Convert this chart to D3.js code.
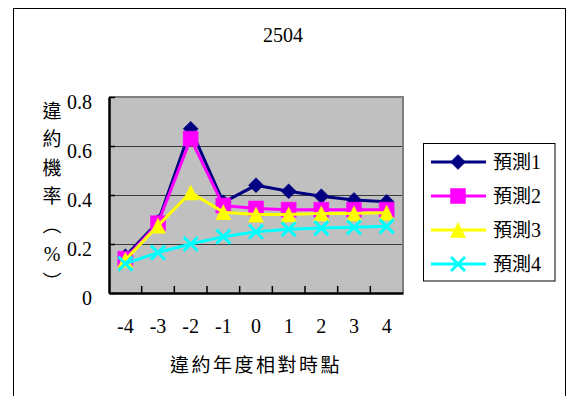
<!DOCTYPE html>
<html>
<head>
<meta charset="utf-8">
<script src="https://cdn.jsdelivr.net/npm/d3@7/dist/d3.min.js"></script>
<style>
  html, body { margin: 0; padding: 0; background: #fff; }
  svg { display: block; }
  .lat { font-family: "Liberation Serif", "Noto Sans CJK TC", serif; }
  .cjk { font-family: "Noto Sans CJK TC", "Liberation Serif", sans-serif; }
</style>
</head>
<body>
<svg id="chart" width="568" height="396"></svg>
<script>
// Default probability (%) by year relative to the default year, four forecasts
const title = "2504";
const categories = ["-4", "-3", "-2", "-1", "0", "1", "2", "3", "4"];
const forecast1 = [0.15, 0.29, 0.67, 0.37, 0.44, 0.415, 0.395, 0.38, 0.372];
const forecast2 = [0.14, 0.285, 0.63, 0.357, 0.345, 0.34, 0.34, 0.34, 0.34];
const forecast3 = [0.135, 0.275, 0.41, 0.33, 0.32, 0.32, 0.325, 0.325, 0.328];
const forecast4 = [0.12, 0.165, 0.2, 0.23, 0.25, 0.26, 0.265, 0.268, 0.272];
const seriesNames = ["預測1", "預測2", "預測3", "預測4"];
const seriesColors = ["#000080", "#ff00ff", "#ffff00", "#00ffff"];
const yTicks = [0, 0.2, 0.4, 0.6, 0.8];
const xTitle = "違約年度相對時點";
const yTitleChars = ["違", "約", "機", "率", "︵", "%", "︶"];

// Marker shapes; size is used as the half-extent in pixels
const diamond = { draw(ctx, r) { ctx.moveTo(0, -r); ctx.lineTo(r, 0); ctx.lineTo(0, r); ctx.lineTo(-r, 0); ctx.closePath(); } };
const square = { draw(ctx, r) { ctx.rect(-r, -r, 2 * r, 2 * r); } };
const triangle = { draw(ctx, r) { ctx.moveTo(0, -r); ctx.lineTo(r, r); ctx.lineTo(-r, r); ctx.closePath(); } };
const cross = { draw(ctx, r) { ctx.moveTo(-r, -r); ctx.lineTo(r, r); ctx.moveTo(r, -r); ctx.lineTo(-r, r); } };

const series = [
  { name: seriesNames[0], values: forecast1, color: seriesColors[0], shape: diamond, r: 7.5, filled: true },
  { name: seriesNames[1], values: forecast2, color: seriesColors[1], shape: square, r: 7.5, filled: true },
  { name: seriesNames[2], values: forecast3, color: seriesColors[2], shape: triangle, r: 7.5, filled: true },
  { name: seriesNames[3], values: forecast4, color: seriesColors[3], shape: cross, r: 7, filled: false }
];

const svg = d3.select("#chart");
const plot = { left: 109, right: 403, top: 97, bottom: 293 };

// Outer chart frame
svg.append("rect")
  .attr("x", 13.5).attr("y", 8.5).attr("width", 552).attr("height", 420)
  .attr("fill", "#fff").attr("stroke", "#000").attr("stroke-width", 1);

// Title
svg.append("text").attr("class", "lat")
  .attr("x", 283).attr("y", 35).attr("dy", "0.35em")
  .attr("text-anchor", "middle").attr("font-size", 20).attr("fill", "#000")
  .text(title);

const x = d3.scaleBand().domain(categories).range([plot.left, plot.right]).padding(0);
const y = d3.scaleLinear().domain([0, 0.8]).range([plot.bottom, plot.top]);

// Plot background
svg.append("rect")
  .attr("x", plot.left).attr("y", plot.top)
  .attr("width", plot.right - plot.left).attr("height", plot.bottom - plot.top)
  .attr("fill", "#c0c0c0");

// Horizontal gridlines
svg.append("g").selectAll("line")
  .data(yTicks.filter(t => t > 0 && t < 0.8))
  .join("line")
  .attr("x1", plot.left).attr("x2", plot.right)
  .attr("y1", d => Math.round(y(d)) + 0.5).attr("y2", d => Math.round(y(d)) + 0.5)
  .attr("stroke", "#3a3a3a").attr("stroke-width", 1);

// Top and right border of the plot area
svg.append("path")
  .attr("d", `M${plot.left},${plot.top}H${plot.right}V${plot.bottom}`)
  .attr("fill", "none").attr("stroke", "#808080").attr("stroke-width", 2);

// Y axis: inward ticks, labels on the left
const yAxis = d3.axisLeft(y).tickValues(yTicks).tickSizeInner(-6).tickSizeOuter(0).tickPadding(17)
  .tickFormat(d => d === 0 ? "0" : d3.format(".1f")(d));
const gy = svg.append("g").attr("transform", `translate(${plot.left},0)`).call(yAxis);
gy.select(".domain").attr("stroke", "#000").attr("stroke-width", 2.5);
gy.selectAll(".tick line").attr("stroke", "#000").attr("stroke-width", 1.5);
gy.selectAll(".tick text").attr("class", "lat").attr("font-size", 20).attr("fill", "#000")
  .attr("dy", "0.55em").attr("font-family", "Liberation Serif");

// X axis: labels under category centres, ticks between categories
const xAxis = d3.axisBottom(x).tickSize(0).tickPadding(26);
const gx = svg.append("g").attr("transform", `translate(0,${plot.bottom})`).call(xAxis);
gx.select(".domain").attr("stroke", "#000").attr("stroke-width", 2.5);
gx.selectAll(".tick text").attr("font-size", 20).attr("fill", "#000")
  .attr("font-family", "Liberation Serif");
svg.append("g").selectAll("line")
  .data(categories.slice(1))
  .join("line")
  .attr("x1", d => x(d)).attr("x2", d => x(d))
  .attr("y1", plot.bottom).attr("y2", plot.bottom - 7)
  .attr("stroke", "#000").attr("stroke-width", 1.5);

// Axis titles
svg.append("text").attr("class", "cjk")
  .attr("x", (plot.left + plot.right) / 2).attr("y", 365).attr("dy", "0.35em")
  .attr("text-anchor", "middle").attr("font-size", 19).attr("letter-spacing", 2.5).attr("fill", "#000")
  .text(xTitle);

svg.append("g").selectAll("text")
  .data(yTitleChars)
  .join("text")
  .attr("class", d => d === "%" ? "lat" : "cjk")
  .attr("x", 52).attr("y", (d, i) => 111 + i * 28.5).attr("dy", "0.35em")
  .attr("text-anchor", "middle").attr("font-size", d => d === "%" ? 20 : 19).attr("fill", "#000")
  .text(d => d);

// Series lines and markers
const cx = d => x(d) + x.bandwidth() / 2;
const line = d3.line().x((v, i) => cx(categories[i])).y(v => y(v));

series.forEach(s => {
  const g = svg.append("g");
  g.append("path").attr("d", line(s.values))
    .attr("fill", "none").attr("stroke", s.color).attr("stroke-width", 3).attr("stroke-linejoin", "round");
  g.selectAll("path.m").data(s.values).join("path").attr("class", "m")
    .attr("transform", (v, i) => `translate(${cx(categories[i])},${y(v)})`)
    .attr("d", d3.symbol().type(s.shape).size(s.r)())
    .attr("fill", s.filled ? s.color : "none")
    .attr("stroke", s.color).attr("stroke-width", s.filled ? 0.5 : 3);
});

// Legend
const lg = svg.append("g");
lg.append("rect").attr("x", 423.5).attr("y", 143.5).attr("width", 131.5).attr("height", 137.5)
  .attr("fill", "#fff").attr("stroke", "#000").attr("stroke-width", 1);
series.forEach((s, i) => {
  const ly = 162 + i * 34;
  lg.append("line").attr("x1", 431).attr("x2", 486).attr("y1", ly).attr("y2", ly)
    .attr("stroke", s.color).attr("stroke-width", 3);
  lg.append("path").attr("transform", `translate(458,${ly})`)
    .attr("d", d3.symbol().type(s.shape).size(s.r)())
    .attr("fill", s.filled ? s.color : "none")
    .attr("stroke", s.color).attr("stroke-width", s.filled ? 0.5 : 3);
  const t = lg.append("text").attr("x", 493).attr("y", ly).attr("dy", "0.35em")
    .attr("font-size", 20).attr("fill", "#000");
  t.append("tspan").attr("class", "cjk").attr("font-size", 19).text(s.name.slice(0, 2));
  t.append("tspan").attr("class", "lat").text(s.name.slice(2));
});
</script>
</body>
</html>
